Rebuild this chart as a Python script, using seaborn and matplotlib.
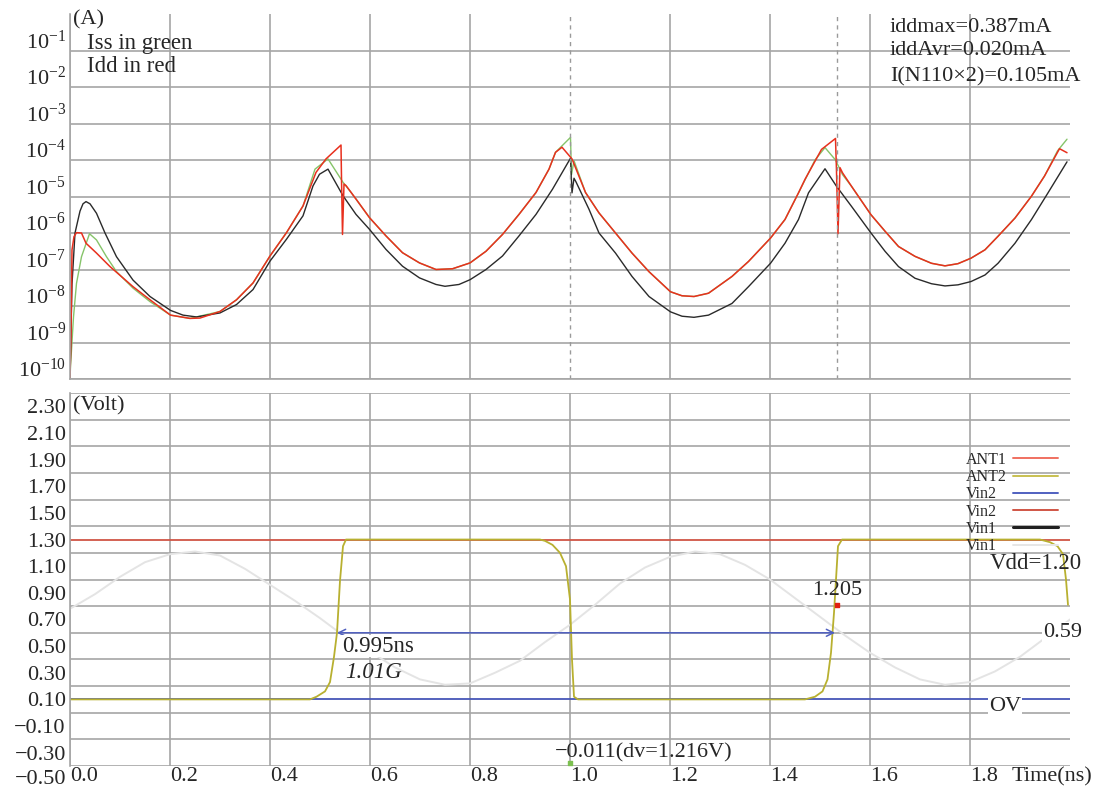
"""Supply current (log) and node voltages of the oscillator transient."""

import matplotlib.pyplot as plt
import matplotlib.transforms as mtransforms
from matplotlib.lines import Line2D
from matplotlib.ticker import NullLocator
import numpy as np
import pandas as pd
import seaborn as sns

# ---- top panel: currents, stored as log10(A) ----
t_idd = [0.000, 0.002, 0.004, 0.008, 0.013, 0.023, 0.032, 0.053, 0.080, 0.126,
         0.160, 0.201, 0.240, 0.260, 0.300, 0.333, 0.366, 0.400, 0.433, 0.466,
         0.492, 0.512, 0.542, 0.543, 0.545, 0.548, 0.552, 0.572, 0.599, 0.632,
         0.665, 0.699, 0.732, 0.765, 0.800, 0.832, 0.865, 0.898, 0.932, 0.958,
         0.971, 0.984, 1.004, 1.031, 1.058, 1.091, 1.124, 1.158, 1.201, 1.224,
         1.248, 1.277, 1.324, 1.357, 1.401, 1.430, 1.457, 1.470, 1.503, 1.531,
         1.533, 1.536, 1.540, 1.545, 1.563, 1.602, 1.630, 1.657, 1.690, 1.723,
         1.750, 1.776, 1.802, 1.830, 1.856, 1.890, 1.923, 1.949, 1.979, 1.994]
log_idd = [-10.0, -8.75, -6.46, -6.10, -5.99, -6.00, -6.28, -6.55, -6.92, -7.47,
           -7.83, -8.25, -8.34, -8.33, -8.15, -7.83, -7.37, -6.63, -5.99, -5.26,
           -4.34, -3.97, -3.59, -4.50, -6.04, -4.66, -4.70, -5.07, -5.58, -6.08,
           -6.54, -6.82, -7.00, -6.98, -6.82, -6.50, -6.04, -5.49, -4.89, -4.25,
           -3.79, -3.65, -3.97, -4.89, -5.45, -6.00, -6.55, -7.06, -7.61, -7.72,
           -7.74, -7.65, -7.19, -6.78, -6.14, -5.63, -4.90, -4.53, -3.71, -3.41,
           -4.30, -6.02, -4.21, -4.35, -4.72, -5.50, -5.95, -6.37, -6.64, -6.83,
           -6.90, -6.84, -6.69, -6.46, -6.09, -5.59, -4.99, -4.44, -3.69, -3.80]

t_iss = [0.000, 0.001, 0.007, 0.013, 0.023, 0.039, 0.053, 0.073, 0.093, 0.126,
         0.160, 0.201, 0.240, 0.300, 0.333, 0.366, 0.400, 0.433, 0.466, 0.490,
         0.516, 0.546, 0.560, 0.572, 0.599, 0.632, 0.665, 0.699, 0.732, 0.765,
         0.800, 0.832, 0.865, 0.898, 0.932, 0.958, 0.971, 1.001, 1.003, 1.008,
         1.031, 1.058, 1.091, 1.124, 1.158, 1.201, 1.224, 1.248, 1.277, 1.324,
         1.357, 1.401, 1.430, 1.457, 1.490, 1.510, 1.531, 1.545, 1.563, 1.602,
         1.630, 1.657, 1.690, 1.723, 1.750, 1.776, 1.802, 1.830, 1.856, 1.890,
         1.923, 1.949, 1.975, 1.994]
log_iss = [-10.0, -9.66, -8.30, -7.38, -6.65, -6.02, -6.19, -6.65, -7.06, -7.51,
           -7.88, -8.25, -8.34, -8.15, -7.83, -7.37, -6.63, -5.99, -5.26, -4.25,
           -3.97, -4.61, -4.85, -5.07, -5.58, -6.08, -6.54, -6.82, -7.00, -6.98,
           -6.82, -6.50, -6.04, -5.49, -4.89, -4.25, -3.79, -3.38, -4.40, -4.02,
           -4.89, -5.45, -6.00, -6.55, -7.06, -7.61, -7.72, -7.74, -7.65, -7.19,
           -6.78, -6.14, -5.63, -4.90, -4.00, -3.66, -4.00, -4.40, -4.72, -5.50,
           -5.95, -6.37, -6.64, -6.83, -6.90, -6.84, -6.69, -6.46, -6.09, -5.59,
           -4.99, -4.44, -3.75, -3.43]

t_vin1 = [0.000, 0.004, 0.010, 0.020, 0.026, 0.032, 0.040, 0.053, 0.070, 0.093,
          0.126, 0.160, 0.201, 0.226, 0.253, 0.300, 0.333, 0.366, 0.400, 0.433,
          0.466, 0.486, 0.499, 0.516, 0.546, 0.572, 0.599, 0.632, 0.665, 0.699,
          0.732, 0.750, 0.778, 0.800, 0.832, 0.865, 0.898, 0.932, 0.965, 1.001,
          1.004, 1.008, 1.012, 1.038, 1.058, 1.091, 1.124, 1.158, 1.201, 1.224,
          1.248, 1.277, 1.324, 1.357, 1.401, 1.430, 1.457, 1.477, 1.510, 1.533,
          1.563, 1.602, 1.630, 1.657, 1.690, 1.723, 1.750, 1.776, 1.802, 1.830,
          1.856, 1.890, 1.923, 1.956, 1.994]
log_vin1 = [-10.0, -7.40, -6.00, -5.40, -5.20, -5.14, -5.20, -5.46, -6.00, -6.65,
            -7.29, -7.74, -8.12, -8.25, -8.30, -8.19, -7.96, -7.55, -6.77, -6.17,
            -5.53, -4.71, -4.39, -4.25, -4.98, -5.49, -5.90, -6.45, -6.91, -7.23,
            -7.41, -7.46, -7.41, -7.28, -7.00, -6.63, -6.08, -5.49, -4.80, -3.95,
            -4.90, -4.50, -4.60, -5.35, -6.00, -6.55, -7.19, -7.74, -8.16, -8.28,
            -8.31, -8.25, -7.93, -7.47, -6.83, -6.28, -5.63, -4.90, -4.24, -4.72,
            -5.27, -6.00, -6.50, -6.92, -7.24, -7.39, -7.45, -7.42, -7.33, -7.15,
            -6.83, -6.28, -5.63, -4.90, -4.05]

# ---- bottom panel: voltages ----
t_ant2 = [0.000, 0.400, 0.480, 0.493, 0.510, 0.520, 0.528, 0.534, 0.540, 0.546,
          0.552, 0.940, 0.950, 0.965, 0.980, 0.992, 1.000, 1.004, 1.008, 1.016,
          1.470, 1.490, 1.505, 1.515, 1.522, 1.528, 1.532, 1.536, 1.544, 1.940,
          1.960, 1.975, 1.986, 1.992, 1.996]
v_ant2 = [0.10, 0.10, 0.10, 0.12, 0.16, 0.23, 0.42, 0.60, 0.99, 1.25,
          1.30, 1.30, 1.29, 1.26, 1.20, 1.10, 0.85, 0.40, 0.12, 0.10,
          0.10, 0.12, 0.16, 0.25, 0.45, 0.75, 1.00, 1.25, 1.30, 1.30,
          1.28, 1.25, 1.19, 1.00, 0.81]

t_sine = [0.00, 0.05, 0.10, 0.15, 0.20, 0.25, 0.30, 0.35, 0.40, 0.45, 0.50,
          0.55, 0.60, 0.65, 0.70, 0.75, 0.80, 0.85, 0.90, 0.95, 1.00, 1.05,
          1.10, 1.15, 1.20, 1.25, 1.30, 1.35, 1.40, 1.45, 1.50, 1.55, 1.60,
          1.65, 1.70, 1.75, 1.80, 1.85, 1.90, 1.95, 2.00]
v_sine = [0.78, 0.89, 1.02, 1.13, 1.19, 1.21, 1.18, 1.08, 0.96, 0.84, 0.71,
          0.57, 0.46, 0.34, 0.25, 0.21, 0.22, 0.30, 0.39, 0.53, 0.66, 0.81,
          0.97, 1.09, 1.17, 1.21, 1.19, 1.11, 1.00, 0.86, 0.72, 0.58, 0.45,
          0.34, 0.25, 0.21, 0.23, 0.31, 0.42, 0.56, 0.70]

t_rail = [0.0, 2.0]
v_vdd_rail = [1.30, 1.30]
v_gnd_rail = [0.10, 0.10]

cursor_t = [1.534, 1.0]
cursor_v = [0.81, -0.38]
period_span = [0.534, 1.530]
period_level = 0.60

legend_labels = ["ANT1", "ANT2", "Vin2", "Vin2", "Vin1", "Vin1"]
legend_colors = ["#f07060", "#c8c050", "#5060c0", "#d05545", "#202020", "#e6e6e6"]

sns.set_style("white")
plt.rcParams["font.family"] = ["Liberation Serif", "DejaVu Serif"]
plt.rcParams["mathtext.fontset"] = "custom"
plt.rcParams["mathtext.rm"] = "Liberation Serif"
plt.rcParams["mathtext.it"] = "Liberation Serif:italic"

GRID = "#a6a6a6"
FS = 16

fig = plt.figure(figsize=(11.04, 7.92), dpi=100)
ax_i = fig.add_axes([70 / 1104, 1 - 379 / 792, 1000 / 1104, 365 / 792])
ax_v = fig.add_axes([70 / 1104, 1 - 766 / 792, 1000 / 1104, 373 / 792])

# ---------------- current panel ----------------
cur = pd.concat([
    pd.DataFrame({"t": t_iss, "I": 10 ** np.array(log_iss), "trace": "Iss"}),
    pd.DataFrame({"t": t_vin1, "I": 10 ** np.array(log_vin1), "trace": "Vin1"}),
    pd.DataFrame({"t": t_idd, "I": 10 ** np.array(log_idd), "trace": "Idd"}),
])
for name, col, lw in [("Iss", "#86c46a", 1.0), ("Vin1", "#2a2a2a", 1.0), ("Idd", "#e8301e", 1.1)]:
    sub = cur[cur.trace == name]
    sns.lineplot(data=sub, x="t", y="I", ax=ax_i, color=col, linewidth=lw,
                 estimator=None, sort=False, legend=False)

ax_i.set_yscale("log")
ax_i.set_xlim(0, 2.0)
ax_i.set_ylim(1e-10, 1e0)
ax_i.set_yticks([10.0 ** -k for k in range(1, 11)])
ax_i.set_yticklabels([rf"$10^{{-{k}}}$" for k in range(1, 11)], fontsize=FS)
ax_i.yaxis.set_minor_locator(NullLocator())
ax_i.set_xticks(np.arange(0, 1.81, 0.2))
ax_i.set_xticklabels([])
ax_i.grid(True, color=GRID, linewidth=1.2)
ax_i.get_xgridlines()[5].set_visible(False)
for xd in [1.0, 1.534]:
    ax_i.axvline(xd, color="#9a9a9a", linestyle=(0, (3, 3)), linewidth=1.0)
ax_i.tick_params(length=0, pad=3)
up = mtransforms.ScaledTranslation(0, 11 / 100, fig.dpi_scale_trans)
for lab in ax_i.get_yticklabels():
    lab.set_transform(lab.get_transform() + up)
ax_i.set_xlabel("")
ax_i.set_ylabel("")
for s in ["top", "right"]:
    ax_i.spines[s].set_visible(False)
for s in ["left", "bottom"]:
    ax_i.spines[s].set_color(GRID)
    ax_i.spines[s].set_linewidth(1.2)

ax_i.text(0.003, 0.985, "(A)", transform=ax_i.transAxes, fontsize=FS, va="center")
ax_i.text(0.017, 0.92, "Iss in green", transform=ax_i.transAxes, fontsize=16.5, va="center")
ax_i.text(0.017, 0.855, "Idd in red", transform=ax_i.transAxes, fontsize=16.5, va="center")
for yy, s in [(0.962, "iddmax=0.387mA"), (0.901, "iddAvr=0.020mA"),
              (0.827, "I(N110\u00d72)=0.105mA")]:
    ax_i.text(0.82, yy, s, transform=ax_i.transAxes, fontsize=FS, va="center")

# ---------------- voltage panel ----------------
sns.lineplot(x=t_sine, y=v_sine, ax=ax_v, color="#e4e4e4", linewidth=1.4,
             estimator=None, sort=False, legend=False)
sns.lineplot(x=t_rail, y=v_vdd_rail, ax=ax_v, color="#d05545", linewidth=1.3,
             estimator=None, legend=False)
sns.lineplot(x=t_rail, y=v_gnd_rail, ax=ax_v, color="#4656b8", linewidth=1.3,
             estimator=None, legend=False)
sns.lineplot(x=t_ant2, y=v_ant2, ax=ax_v, color="#b8b030", linewidth=1.3,
             estimator=None, sort=False, legend=False)

ax_v.annotate("", xy=(period_span[0], period_level), xytext=(period_span[1], period_level),
              arrowprops=dict(arrowstyle="<->,head_length=0.5,head_width=0.25",
                              color="#5060c0", lw=1.1, shrinkA=0, shrinkB=0))
ax_v.scatter(cursor_t[:1], cursor_v[:1], color="#e02010", marker="s", s=9, zorder=5)
ax_v.scatter(cursor_t[1:], cursor_v[1:], color="#7cc050", marker="s", s=9, zorder=5)

ax_v.set_xlim(0, 2.0)
ax_v.set_ylim(-0.4, 2.4)
ax_v.set_xticks(np.arange(0, 1.81, 0.2))
ax_v.set_xticklabels([f"{v:.1f}" for v in np.arange(0, 1.81, 0.2)], fontsize=FS, ha="left")
ax_v.set_yticks(np.arange(-0.3, 2.31, 0.2))
ax_v.set_yticklabels([f"{v:.2f}".replace("-", "\u2212") for v in np.arange(-0.3, 2.31, 0.2)],
                     fontsize=FS)
ax_v.set_yticks(np.arange(-0.4, 2.41, 0.2), minor=True)
ax_v.grid(True, which="major", axis="x", color=GRID, linewidth=1.2)
ax_v.grid(True, which="minor", axis="y", color=GRID, linewidth=1.2)
ax_v.tick_params(which="both", length=0, pad=3)
ax_v.tick_params(axis="x", pad=1)
ax_v.set_xlabel("")
ax_v.set_ylabel("")
for s in ["top", "right", "bottom"]:
    ax_v.spines[s].set_visible(False)
ax_v.spines["left"].set_color(GRID)
ax_v.spines["left"].set_linewidth(1.2)

ax_v.text(-0.004, -0.5, "\u22120.50", transform=mtransforms.blended_transform_factory(
    ax_v.transAxes, ax_v.transData), ha="right", va="center", fontsize=FS, clip_on=False)
ax_v.text(1.884, -0.03, "Time(ns)", transform=mtransforms.blended_transform_factory(
    ax_v.transData, ax_v.transAxes), ha="left", va="center", fontsize=FS, clip_on=False)
ax_v.text(0.005, 2.30, "(Volt)", fontsize=FS, va="center")
ax_v.text(1.84, 1.12, "Vdd=1.20", fontsize=16.5, va="center", clip_on=False)
ax_v.text(1.87, 0.05, "OV", fontsize=FS, va="center", ha="center",
          bbox=dict(facecolor="white", edgecolor="none", pad=0.5))
ax_v.text(1.946, 0.605, "0.59", fontsize=FS, va="center", clip_on=False,
          bbox=dict(facecolor="white", edgecolor="none", pad=0.5))
ax_v.text(1.484, 0.92, "1.205", fontsize=FS, va="center")
ax_v.text(0.544, 0.50, "0.995ns", fontsize=16.5, va="center",
          bbox=dict(facecolor="white", edgecolor="none", pad=0.5))
ax_v.text(0.55, 0.30, "1.01G", fontsize=16.5, va="center", style="italic")
ax_v.text(0.97, -0.30, "\u22120.011(dv=1.216V)", fontsize=FS, va="center")

# legend: names left-aligned in one column, line samples in a second column
leg_kw = dict(frameon=False, fontsize=11.5, labelspacing=0.08, borderpad=0,
              borderaxespad=0, loc="upper left")
names = ax_v.legend([Line2D([], [], lw=0) for _ in legend_labels], legend_labels,
                    bbox_to_anchor=(0.896, 0.842), handlelength=0, handletextpad=0, **leg_kw)
ax_v.add_artist(names)
handles = [Line2D([0], [0], color=c, lw=2.2 if c == "#202020" else 1.4) for c in legend_colors]
ax_v.legend(handles, [" "] * len(handles), bbox_to_anchor=(0.943, 0.842),
            handlelength=2.8, handletextpad=0, **leg_kw)

plt.savefig("out.png", dpi=100)
